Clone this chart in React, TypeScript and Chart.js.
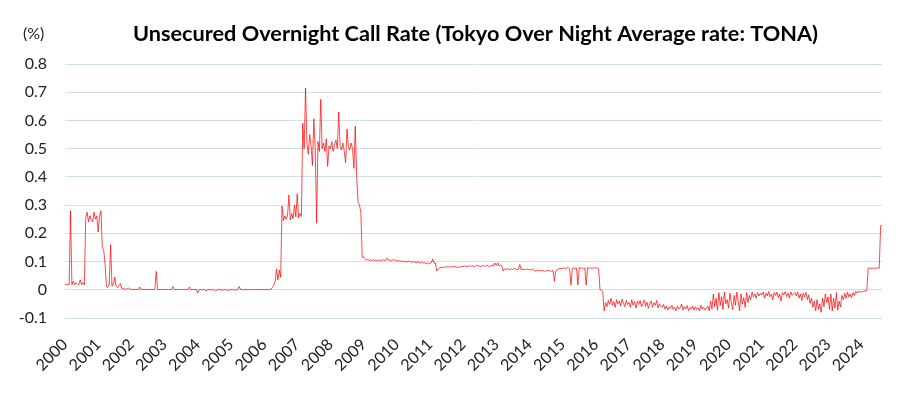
import React, { useEffect, useRef } from 'react';
import { Chart, registerables } from 'chart.js';

Chart.register(...registerables);

const TITLE = 'Unsecured Overnight Call Rate (Tokyo Over Night Average rate: TONA)';
const UNIT_LABEL = '(%)';
const FIRST_YEAR = 2000;
const POINTS_PER_YEAR = 24; // half-monthly readings
const X_MIN = 2000;
const X_MAX = 2024.625;
const Y_MIN = -0.1;
const Y_MAX = 0.8;
const Y_STEP = 0.1;
const YEAR_TICKS = [2000, 2001, 2002, 2003, 2004, 2005, 2006, 2007, 2008, 2009, 2010, 2011, 2012, 2013, 2014, 2015, 2016, 2017, 2018, 2019, 2020, 2021, 2022, 2023, 2024];

const rates2000 = [0.018, 0.018, 0.020, 0.018, 0.280, 0.018, 0.030, 0.018, 0.025, 0.018, 0.018, 0.035, 0.018, 0.025, 0.018, 0.255, 0.275, 0.240, 0.262, 0.248, 0.240, 0.275, 0.250, 0.262];
const rates2001 = [0.205, 0.260, 0.280, 0.150, 0.140, 0.090, 0.012, 0.008, 0.020, 0.160, 0.012, 0.020, 0.045, 0.012, 0.008, 0.015, 0.022, 0.006, 0.004, 0.003, 0.002, 0.003, 0.006, 0.002];
const rates2002 = [0.002, 0.001, 0.002, 0.001, 0.001, 0.001, 0.010, 0.001, 0.001, 0.002, 0.001, 0.001, 0.001, 0.001, 0.002, 0.001, 0.001, 0.001, 0.065, 0.001, 0.001, 0.001, 0.001, 0.001];
const rates2003 = [0.001, 0.001, 0.001, 0.001, 0.001, 0.001, 0.012, 0.001, 0.001, 0.001, 0.001, 0.001, 0.001, 0.001, 0.001, 0.001, 0.001, 0.001, 0.010, 0.001, 0.001, 0.001, 0.001, 0.001];
const rates2004 = [-0.012, 0.000, 0.001, 0.000, 0.001, 0.000, -0.004, 0.000, 0.001, 0.000, 0.000, 0.000, 0.000, -0.005, 0.000, 0.001, 0.000, 0.000, -0.002, 0.000, 0.001, 0.000, -0.003, 0.000];
const rates2005 = [0.000, 0.001, 0.000, -0.001, 0.000, 0.001, 0.012, 0.001, 0.000, 0.001, 0.000, 0.001, 0.000, 0.001, 0.000, 0.001, 0.000, 0.001, 0.000, 0.001, 0.000, 0.001, 0.000, 0.001];
const rates2006 = [0.001, 0.000, 0.001, 0.000, 0.001, 0.002, 0.008, 0.015, 0.030, 0.074, 0.035, 0.070, 0.045, 0.297, 0.245, 0.262, 0.250, 0.265, 0.336, 0.248, 0.270, 0.252, 0.300, 0.258];
const rates2007 = [0.340, 0.255, 0.270, 0.260, 0.590, 0.500, 0.715, 0.520, 0.480, 0.550, 0.510, 0.440, 0.606, 0.500, 0.236, 0.525, 0.490, 0.675, 0.500, 0.520, 0.490, 0.535, 0.437, 0.510];
const rates2008 = [0.500, 0.525, 0.490, 0.515, 0.530, 0.500, 0.630, 0.510, 0.495, 0.520, 0.490, 0.450, 0.570, 0.505, 0.495, 0.520, 0.500, 0.430, 0.580, 0.400, 0.310, 0.300, 0.275, 0.115];
const rates2009 = [0.117, 0.110, 0.105, 0.108, 0.104, 0.106, 0.103, 0.107, 0.104, 0.105, 0.102, 0.106, 0.103, 0.104, 0.107, 0.103, 0.105, 0.112, 0.104, 0.106, 0.103, 0.105, 0.107, 0.103];
const rates2010 = [0.104, 0.101, 0.103, 0.100, 0.102, 0.099, 0.101, 0.098, 0.100, 0.102, 0.099, 0.097, 0.100, 0.098, 0.096, 0.099, 0.097, 0.095, 0.098, 0.094, 0.096, 0.093, 0.095, 0.092];
const rates2011 = [0.094, 0.096, 0.109, 0.094, 0.095, 0.066, 0.072, 0.078, 0.080, 0.079, 0.081, 0.078, 0.083, 0.080, 0.082, 0.079, 0.084, 0.081, 0.083, 0.080, 0.082, 0.079, 0.081, 0.083];
const rates2012 = [0.082, 0.085, 0.081, 0.084, 0.082, 0.086, 0.083, 0.085, 0.081, 0.084, 0.087, 0.083, 0.085, 0.082, 0.086, 0.084, 0.083, 0.087, 0.085, 0.082, 0.084, 0.089, 0.083, 0.095];
const rates2013 = [0.086, 0.095, 0.084, 0.088, 0.085, 0.066, 0.074, 0.072, 0.075, 0.073, 0.071, 0.074, 0.072, 0.076, 0.073, 0.071, 0.074, 0.090, 0.072, 0.073, 0.071, 0.072, 0.074, 0.071];
const rates2014 = [0.072, 0.070, 0.074, 0.071, 0.066, 0.068, 0.067, 0.070, 0.066, 0.069, 0.067, 0.065, 0.068, 0.066, 0.069, 0.067, 0.065, 0.068, 0.030, 0.066, 0.071, 0.074, 0.076, 0.075];
const rates2015 = [0.076, 0.078, 0.074, 0.077, 0.079, 0.075, 0.017, 0.076, 0.078, 0.075, 0.077, 0.017, 0.079, 0.076, 0.078, 0.074, 0.077, 0.017, 0.079, 0.076, 0.078, 0.075, 0.077, 0.080];
const rates2016 = [0.076, 0.079, 0.074, 0.001, -0.002, -0.008, -0.075, -0.045, -0.060, -0.038, -0.052, -0.030, -0.055, -0.042, -0.062, -0.035, -0.050, -0.040, -0.058, -0.033, -0.048, -0.060, -0.038, -0.052];
const rates2017 = [-0.045, -0.062, -0.035, -0.055, -0.042, -0.065, -0.040, -0.052, -0.038, -0.060, -0.048, -0.036, -0.058, -0.044, -0.066, -0.050, -0.040, -0.062, -0.046, -0.055, -0.038, -0.064, -0.050, -0.058];
const rates2018 = [-0.062, -0.052, -0.068, -0.058, -0.072, -0.060, -0.066, -0.055, -0.070, -0.062, -0.074, -0.058, -0.068, -0.064, -0.050, -0.072, -0.060, -0.068, -0.056, -0.074, -0.063, -0.069, -0.058, -0.072];
const rates2019 = [-0.060, -0.070, -0.064, -0.075, -0.055, -0.068, -0.062, -0.072, -0.066, -0.058, -0.074, -0.040, -0.068, -0.015, -0.060, -0.030, -0.072, -0.010, -0.055, -0.025, -0.070, -0.008, -0.050, -0.035];
const rates2020 = [-0.065, -0.012, -0.045, -0.070, -0.020, -0.055, -0.008, -0.040, -0.075, -0.015, -0.050, -0.028, -0.062, -0.010, -0.045, -0.020, -0.035, -0.008, -0.025, -0.015, -0.030, -0.010, -0.022, -0.012];
const rates2021 = [-0.018, -0.008, -0.030, -0.012, -0.022, -0.006, -0.025, -0.015, -0.035, -0.010, -0.020, -0.008, -0.028, -0.014, -0.040, -0.010, -0.018, -0.006, -0.024, -0.012, -0.030, -0.008, -0.020, -0.015];
const rates2022 = [-0.010, -0.022, -0.008, -0.030, -0.015, -0.038, -0.012, -0.025, -0.010, -0.035, -0.018, -0.048, -0.030, -0.062, -0.040, -0.075, -0.035, -0.068, -0.050, -0.080, -0.030, -0.060, -0.015, -0.045];
const rates2023 = [-0.025, -0.070, -0.015, -0.075, -0.030, -0.065, -0.010, -0.072, -0.040, -0.060, -0.020, -0.035, -0.012, -0.030, -0.008, -0.025, -0.015, -0.028, -0.010, -0.020, -0.006, -0.012, -0.004, -0.010];
const rates2024 = [-0.005, -0.008, -0.003, -0.006, -0.002, 0.076, 0.077, 0.076, 0.077, 0.076, 0.077, 0.076, 0.077, 0.077, 0.227, 0.228];

const yearlyRates = [
  rates2000, rates2001, rates2002, rates2003, rates2004, rates2005, rates2006, rates2007, rates2008,
  rates2009, rates2010, rates2011, rates2012, rates2013, rates2014, rates2015, rates2016, rates2017,
  rates2018, rates2019, rates2020, rates2021, rates2022, rates2023, rates2024,
];

const FONT_FAMILY = 'Lato, "Liberation Sans", sans-serif';

const textPlugin = {
  id: 'headerText',
  afterDraw(chart: any) {
    const { ctx, chartArea } = chart;
    ctx.save();
    ctx.fillStyle = '#000000';
    ctx.textBaseline = 'middle';
    ctx.textAlign = 'center';
    ctx.font = `bold 21.7px ${FONT_FAMILY}`;
    ctx.fillText(TITLE, (chartArea.left + chartArea.right) / 2 + 2, 34);
    ctx.textAlign = 'left';
    ctx.font = `16px ${FONT_FAMILY}`;
    ctx.fillStyle = '#222222';
    ctx.fillText(UNIT_LABEL, 23, 34);
    ctx.restore();
  },
};

export default function App() {
  const canvasRef = useRef<HTMLCanvasElement | null>(null);

  useEffect(() => {
    if (!canvasRef.current) return;
    const points = yearlyRates.flatMap((arr, yi) =>
      arr.map((v, j) => ({ x: FIRST_YEAR + yi + j / POINTS_PER_YEAR, y: v }))
    );
    const chart = new Chart(canvasRef.current, {
      type: 'line',
      data: {
        datasets: [
          {
            data: points,
            borderColor: 'rgba(255,0,0,0.8)',
            borderWidth: 0.9,
            pointRadius: 0,
            tension: 0,
            fill: false,
          },
        ],
      },
      options: {
        animation: false,
        responsive: false,
        parsing: false,
        normalized: true,
        layout: { padding: { top: 64, right: 28, bottom: 0, left: 0 } },
        plugins: {
          legend: { display: false },
          title: { display: false },
          tooltip: { enabled: false },
        },
        scales: {
          x: {
            type: 'linear',
            min: X_MIN,
            max: X_MAX,
            afterBuildTicks: (s: any) => {
              s.ticks = YEAR_TICKS.map((v) => ({ value: v }));
            },
            afterFit: (s: any) => {
              s.height = 78;
            },
            ticks: {
              autoSkip: false,
              maxRotation: 45,
              minRotation: 45,
              padding: 17,
              color: '#222222',
              font: { family: FONT_FAMILY, size: 16 },
              callback: (v: any) => String(v),
            },
            grid: { display: false, drawTicks: false },
            border: { display: false },
          },
          y: {
            min: Y_MIN,
            max: Y_MAX,
            afterFit: (s: any) => {
              s.width = 65;
            },
            ticks: {
              stepSize: Y_STEP,
              padding: 18,
              color: '#222222',
              font: { family: FONT_FAMILY, size: 16 },
              callback: (v: any) => String(Math.round(Number(v) * 10) / 10),
            },
            grid: { color: '#cfe0e6', lineWidth: 1, drawTicks: false },
            border: { display: false },
          },
        },
      },
      plugins: [textPlugin],
    });
    return () => chart.destroy();
  }, []);

  return (
    <div style={{ position: 'absolute', left: 0, top: 0, width: 910, height: 396, background: '#ffffff' }}>
      <canvas ref={canvasRef} width={910} height={396} />
    </div>
  );
}
